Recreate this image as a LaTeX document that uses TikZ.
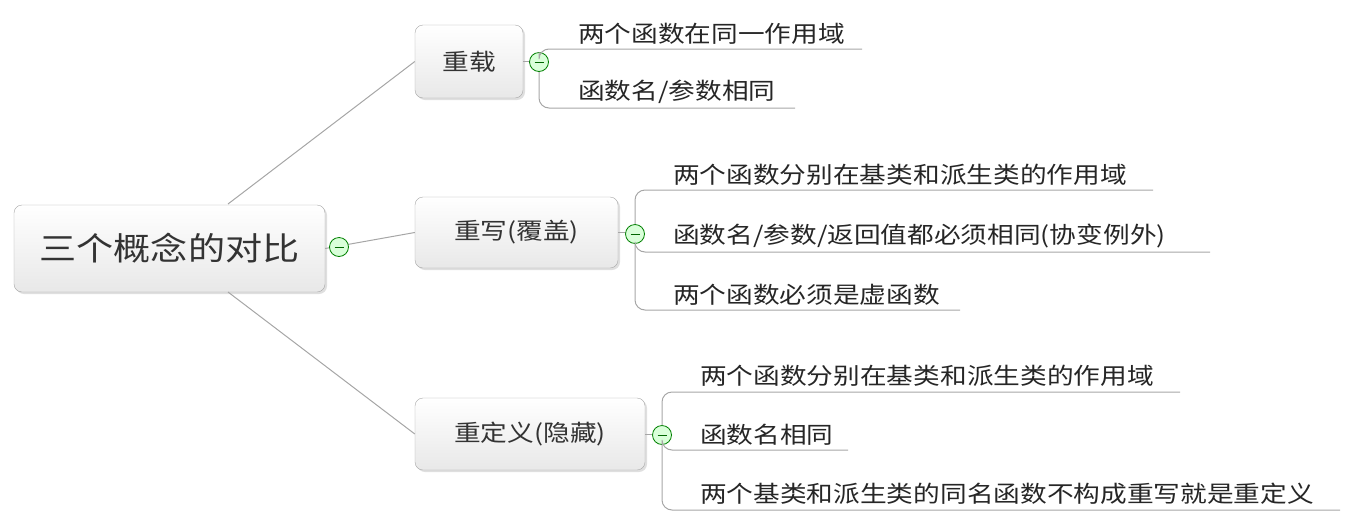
\documentclass[tikz,border=0pt]{standalone}
\usepackage{fontspec}
\setmainfont[FakeStretch=1.16]{Noto Sans CJK SC}
\usetikzlibrary{shadows}
\begin{document}
\begin{tikzpicture}[x=1pt,y=-1pt,
  box/.style={draw=gray!70,rounded corners=8pt,top color=white,bottom color=gray!18,drop shadow={opacity=0.25,shadow xshift=2pt,shadow yshift=-2pt},inner sep=0pt,text=black!80},
  lnk/.style={draw=gray!70,line width=1pt},
  col/.style={circle,draw=green!50!black,line width=0.8pt,fill=green!15,minimum size=19pt,inner sep=0pt},
  leaf/.style={anchor=south west,inner sep=0pt,font=\fontsize{23}{25}\selectfont,text=black!85},
  br/.style={draw=gray!70,line width=1pt,rounded corners=10pt}]
\useasboundingbox (0,0) rectangle (1357,528);
\node[box,minimum width=311pt,minimum height=87pt,font=\fontsize{32}{35}\selectfont] (root) at (169.5,248.5) {三个概念的对比};
\node[box,minimum width=108pt,minimum height=73pt,font=\fontsize{23}{25}\selectfont] (a) at (469,61.5) {重载};
\node[box,minimum width=203pt,minimum height=71pt,font=\fontsize{23}{25}\selectfont] (b) at (516.5,232.5) {重写(覆盖)};
\node[box,minimum width=230pt,minimum height=72pt,font=\fontsize{23}{25}\selectfont] (c) at (530,434) {重定义(隐藏)};
\coordinate (r1) at (228,204);
\coordinate (r3) at (228,292);
\draw[lnk] (r1) -- (a.west);
\draw[lnk] (root.east) -- (b.west);
\draw[lnk] (r3) -- (c.west);
\draw[lnk] (a.east) -- ++(10,0);
\draw[lnk] (b.east) -- ++(10,0);
\draw[lnk] (c.east) -- ++(10,0);
% leaves
\node[leaf] (a1) at (578,45) {两个函数在同一作用域};
\node[leaf] (a2) at (578,104) {函数名/参数相同};
\coordinate (a1e) at (862,49); \coordinate (a2e) at (795,108);
\node[leaf] (b1) at (673,186) {两个函数分别在基类和派生类的作用域};
\node[leaf] (b2) at (673,248) {函数名/参数/返回值都必须相同(协变例外)};
\node[leaf] (b3) at (673,306) {两个函数必须是虚函数};
\coordinate (b1e) at (1153,190); \coordinate (b2e) at (1210,252); \coordinate (b3e) at (960,310);
\node[leaf] (c1) at (700,387) {两个函数分别在基类和派生类的作用域};
\node[leaf] (c2) at (700,446) {函数名相同};
\node[leaf] (c3) at (700,505) {两个基类和派生类的同名函数不构成重写就是重定义};
\coordinate (c1e) at (1180,392); \coordinate (c2e) at (848,450); \coordinate (c3e) at (1340,510);
\node[col] (ka) at (539,62) {};
\node[col] (kb) at (635,234) {};
\node[col] (kc) at (662,435) {};
\node[col] (kr) at (339,247) {};
\draw[br] (ka.north) |- (a1e);
\draw[br] (ka.south) |- (a2e);
\draw[br] (kb.north) |- (b1e);
\draw[br] (kb.south) |- (b2e);
\draw[br] (kb.south) |- (b3e);
\draw[br] (kc.north) |- (c1e);
\draw[br] (kc.south) |- (c2e);
\draw[br] (kc.south) |- (c3e);
\foreach \k in {ka,kb,kc,kr}{\draw[green!40!black,line width=1pt] ([xshift=-4.5pt]\k.center) -- ([xshift=4.5pt]\k.center);}
\end{tikzpicture}
\end{document}
